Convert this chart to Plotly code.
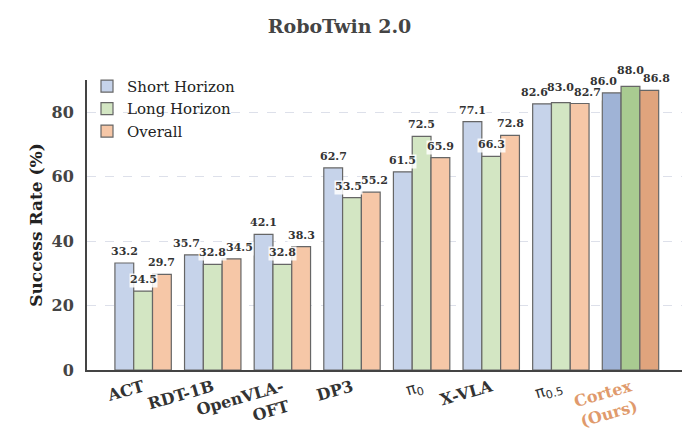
import plotly.graph_objects as go

categories = ["ACT", "RDT-1B", "OpenVLA-<br>OFT", "DP3",
              "<span style='font-family:DejaVu Sans;font-weight:normal'>π<sub>0</sub></span>",
              "X-VLA",
              "<span style='font-family:DejaVu Sans;font-weight:normal'>π<sub>0.5</sub></span>",
              "<span style='color:#e09a6c'>Cortex<br>(Ours)</span>"]
short_horizon = [33.2, 35.7, 42.1, 62.7, 61.5, 77.1, 82.6, 86.0]
long_horizon = [24.5, 32.8, 32.8, 53.5, 72.5, 66.3, 83.0, 88.0]
overall = [29.7, 34.5, 38.3, 55.2, 65.9, 72.8, 82.7, 86.8]
series_names = ["Short Horizon", "Long Horizon", "Overall"]
y_ticks = [0, 20, 40, 60, 80]

base_colors = ["#c6d3ea", "#d3e6c3", "#f6c7a7"]
ours_colors = ["#9fb3d6", "#a9cb91", "#e0a47d"]
edge = "#666666"
W = 0.27
SERIF = "DejaVu Serif"
X_RANGE = [-0.806, 7.74]
Y_RANGE = [0, 90]
PLOT_W, PLOT_H = 595, 290
PX_PER_Y = PLOT_H / (Y_RANGE[1] - Y_RANGE[0])
PX_PER_X = PLOT_W / (X_RANGE[1] - X_RANGE[0])
LABEL_SIZE = 11
LABEL_W = 26.5   # approx label width in px
LABEL_H = 13.0

fig = go.Figure()
series = [short_horizon, long_horizon, overall]
n = len(categories)
xs = list(range(n))
for k, (name, vals) in enumerate(zip(series_names, series)):
    cols = [base_colors[k]] * (n - 1) + [ours_colors[k]]
    fig.add_trace(go.Bar(
        x=xs, y=vals, name=name, width=W, offset=(k - 1.5) * W,
        marker=dict(color=cols, line=dict(color=edge, width=1.2)),
        hoverinfo="skip",
    ))

# label placement with simple horizontal repulsion inside each group
labels = []
for i in range(n):
    vals = [s[i] for s in series]
    px = [((i + (k - 1) * W) - X_RANGE[0]) * PX_PER_X for k in range(3)]
    py = [v * PX_PER_Y for v in vals]
    ysh = [3, 3, 3]
    if (abs(vals[1] - vals[0]) * PX_PER_Y < 8 and abs(vals[1] - vals[2]) * PX_PER_Y < 8):
        ysh[1] = 7
    for _ in range(30):
        for a in range(2):
            b = a + 1
            dy = abs((py[a] + ysh[a]) - (py[b] + ysh[b]))
            dx = px[b] - px[a]
            if dy < LABEL_H and dx < LABEL_W:
                push = (LABEL_W - dx) / 2
                px[a] -= push
                px[b] += push
    for k in range(3):
        labels.append((px[k] / PX_PER_X + X_RANGE[0], vals[k], ysh[k]))

label_font = dict(family=SERIF, size=LABEL_SIZE, color="#333333", weight="bold")
for x, v, shift in labels:
    fig.add_annotation(x=x, y=v, xref="x", yref="y", text=f"{v:.1f}",
                       showarrow=False, yanchor="bottom", yshift=shift,
                       font=dict(label_font, color="rgba(0,0,0,0)"),
                       bgcolor="rgba(255,255,255,0.85)", borderpad=0)
for x, v, shift in labels:
    fig.add_annotation(x=x, y=v, xref="x", yref="y", text=f"{v:.1f}",
                       showarrow=False, yanchor="bottom", yshift=shift,
                       font=label_font)

fig.update_layout(
    width=690, height=440,
    margin=dict(l=87, r=8, t=80, b=70),
    paper_bgcolor="white", plot_bgcolor="white",
    title=dict(text="<b>RoboTwin 2.0</b>", x=0.492, xanchor="center", y=0.94, yanchor="middle",
               font=dict(family=SERIF, size=19, color="#444444")),
    showlegend=True,
    legend=dict(x=0.0, y=1.035, xanchor="left", yanchor="top",
                bgcolor="rgba(255,255,255,0)",
                font=dict(family=SERIF, size=15, color="#222222"),
                itemwidth=30),
    font=dict(family=SERIF),
)
fig.update_xaxes(
    range=X_RANGE, tickvals=xs, ticktext=categories, tickangle=-16,
    showgrid=False, zeroline=False, automargin=False,
    showline=True, linecolor="#444444", linewidth=2,
    ticks="", tickfont=dict(family=SERIF, size=16, color="#333333", weight="bold"),
)
fig.update_yaxes(
    range=Y_RANGE, tickvals=y_ticks, showgrid=True, gridcolor="#dde0ea",
    griddash="dash", gridwidth=1, zeroline=False, automargin=False,
    showline=True, linecolor="#444444", linewidth=2, ticks="",
    ticklabelstandoff=8,
    tickfont=dict(family=SERIF, size=16, color="#444444", weight="bold"),
    title=dict(text="Success Rate (%)", standoff=5,
               font=dict(family=SERIF, size=17, color="#222222", weight="bold")),
)

fig.write_html("out.html")
